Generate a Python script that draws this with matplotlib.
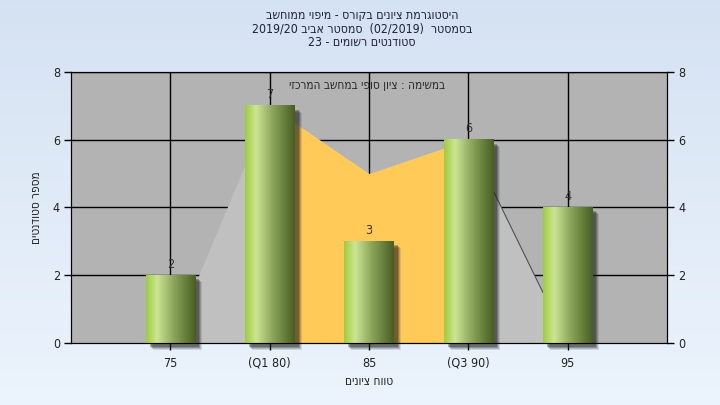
import numpy as np
import matplotlib
matplotlib.use("Agg")
import matplotlib.pyplot as plt
import matplotlib.transforms as mtransforms
from matplotlib.patches import Rectangle

# data
categories = ["75", "(Q1 80)", "85", "(Q3 90)", "95"]
counts = [2, 7, 3, 6, 4]
curve = [0, 7, 5, 6, 0]          # light gray distribution area
iqr_idx = [1, 2, 3]              # orange band between Q1 and Q3

title_lines = ["היסטוגרמת ציונים בקורס - מיפוי ממוחשב",
               "בסמסטר  (02/2019)  סמסטר אביב 2019/20",
               "סטודנטים רשומים - 23"]
note = "במשימה : ציון סופי במחשב המרכזי"
xlab = "טווח ציונים"
ylab = "מספר סטודנטים"


def heb(s):
    # simple visual ordering for right-to-left text
    out = []
    for tok in s.split(" ")[::-1]:
        if any("\u0590" <= c <= "\u05ff" for c in tok):
            out.append(tok[::-1])
        else:
            out.append(tok)
    return " ".join(out)


plt.rcParams["font.family"] = ["DejaVu Sans"]
plt.rcParams["font.stretch"] = "condensed"

fig = plt.figure(figsize=(7.2, 4.05), dpi=100)

# background gradient
bg = fig.add_axes([0, 0, 1, 1], zorder=-10)
grad = np.linspace(0, 1, 256)[:, None]
top = np.array([0.835, 0.886, 0.949])
bot = np.array([0.925, 0.957, 0.992])
img = top[None, None, :] * (1 - grad[:, :, None]) + bot[None, None, :] * grad[:, :, None]
bg.imshow(img, aspect="auto", extent=[0, 1, 0, 1])
bg.axis("off")

ax = fig.add_axes([71 / 720, 1 - 343 / 405, 596 / 720, 271 / 405])
ax.set_facecolor("#b3b3b3")
x = np.arange(1, len(categories) + 1)

# grid behind areas
for v in [2, 4, 6, 8]:
    ax.axhline(v, color="black", lw=1, zorder=1)
for xv in x:
    ax.axvline(xv, color="black", lw=1, zorder=1)

# areas
ax.fill_between(x, curve, color="#c0c0c0", lw=0, zorder=2)
ax.plot(x[3:], curve[3:], color="#505050", lw=0.8, zorder=2.1)
ax.fill_between(x[iqr_idx], np.array(curve)[iqr_idx], color="#ffca57", lw=0, zorder=2.2)

# bars with gradient and shadow
w = 0.5
stops = np.array([0.0, 0.22, 0.55, 1.0])
cols = np.array([[0.62, 0.80, 0.24],
                 [0.80, 0.90, 0.58],
                 [0.55, 0.65, 0.36],
                 [0.28, 0.37, 0.13]])
t = np.linspace(0, 1, 200)
gr = np.stack([np.interp(t, stops, cols[:, i]) for i in range(3)], axis=-1)[None, :, :]
for xi, c in zip(x, counts):
    for k, a in [(7, 0.12), (6, 0.18), (5, 0.25), (4, 0.32)]:
        tr = mtransforms.offset_copy(ax.transData, fig=fig, x=k, y=-k, units="dots")
        ax.add_patch(Rectangle((xi - w / 2, 0), w, c, transform=tr,
                               facecolor="#202020", alpha=a, lw=0, zorder=2.5, clip_on=False))
    ax.imshow(gr, extent=[xi - w / 2, xi + w / 2, 0, c], aspect="auto", zorder=3)
    ax.text(xi, c + 0.14, str(c), ha="center", va="bottom", fontsize=9,
            color="#333333", zorder=4)

ax.set_xlim(0, 6)
ax.set_ylim(0, 8)
ax.set_xticks(x)
ax.set_xticklabels(categories)
ax.set_yticks([0, 2, 4, 6, 8])
ax.tick_params(colors="black", labelcolor="#222222", labelsize=9, length=5, width=1, pad=3)
ax.tick_params(axis="x", pad=5)
for s in ax.spines.values():
    s.set_color("black")

ax2 = ax.twinx()
ax2.set_ylim(0, 8)
ax2.set_yticks([0, 2, 4, 6, 8])
ax2.tick_params(colors="black", labelcolor="#222222", labelsize=9, length=5, width=1, pad=3)

ax.text(0.497, 0.952, heb(note), transform=ax.transAxes, ha="center", va="center",
        fontsize=8.5, color="#2a2a2a", zorder=5)
ax.set_xlabel(heb(xlab), fontsize=8.5, color="#222222", labelpad=4)
ax.set_ylabel(heb(ylab), fontsize=8.5, color="#222222", labelpad=7)

fig.text(0.503, 1 - 29 / 405, "\n".join(heb(l) for l in title_lines), ha="center",
         va="center", fontsize=8.8, color="#202040", linespacing=1.05)

fig.savefig("out.png", dpi=100)
